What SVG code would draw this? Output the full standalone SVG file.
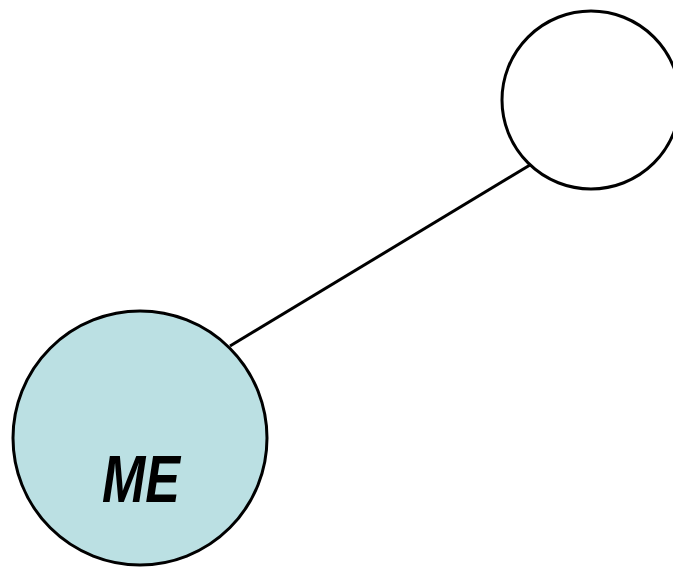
<svg xmlns="http://www.w3.org/2000/svg" width="673" height="567" viewBox="0 0 673 567">
<style>
.node{stroke:#000;stroke-width:3}
.edge{stroke:#000;stroke-width:3;fill:none}
.lbl{font-family:"Liberation Sans",Arial,sans-serif;font-weight:bold;font-style:italic;fill:#000}
</style>
<rect width="673" height="567" fill="#fff"/>
<g id="connectors">
<line class="edge" x1="230" y1="346" x2="530" y2="165"/>
</g>
<g id="node-me">
<circle class="node" cx="140" cy="438" r="127" fill="#bbe0e3"/>
<text class="lbl" x="141" y="502" font-size="66" text-anchor="middle" textLength="78" lengthAdjust="spacingAndGlyphs">ME</text>
</g>
<g id="node-other">
<circle class="node" cx="591" cy="100" r="89" fill="#fff"/>
</g>
</svg>
